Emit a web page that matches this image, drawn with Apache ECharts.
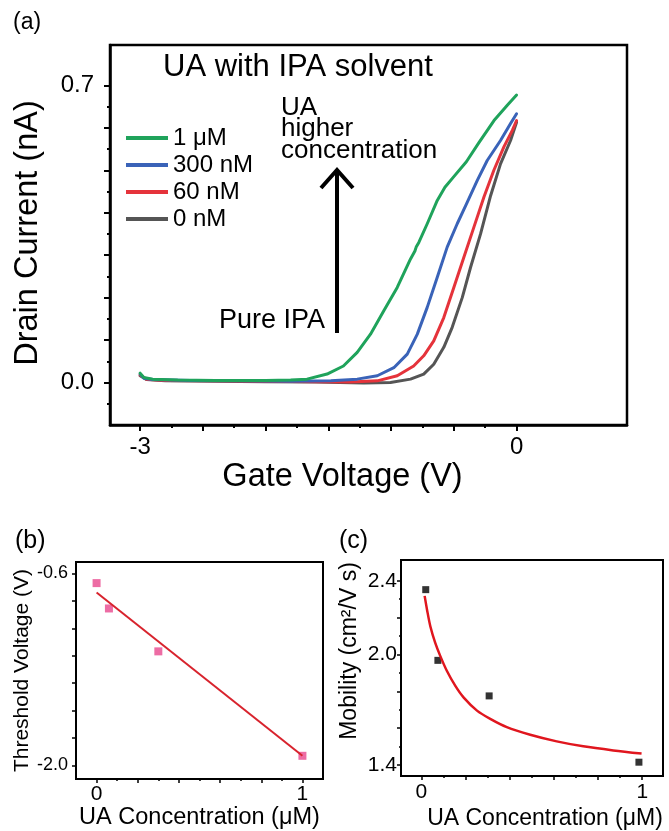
<!DOCTYPE html>
<html><head><meta charset="utf-8">
<script src="https://cdn.jsdelivr.net/npm/echarts@6/dist/echarts.min.js"></script>
<style>html,body{margin:0;padding:0;background:#fff}#c{width:669px;height:831px}</style>
</head><body><div id="c"></div>
<script>
// ---------- Panel (a): transfer curves [gate V, drain nA] ----------
const seriesNames = ['1 μM', '300 nM', '60 nM', '0 nM'];
const curve1uM = [[-3.0,0.022],[-2.97,0.012],[-2.9,0.008],[-2.7,0.006],[-2.4,0.005],[-2.0,0.005],[-1.8,0.006],[-1.67,0.008],[-1.51,0.02],[-1.38,0.039],[-1.27,0.071],[-1.164,0.114],[-1.058,0.169],[-0.951,0.224],[-0.845,0.291],[-0.81,0.31],[-0.8,0.319],[-0.779,0.33],[-0.712,0.374],[-0.632,0.429],[-0.571,0.46],[-0.5,0.485],[-0.4,0.52],[-0.3,0.565],[-0.18,0.617],[-0.074,0.653],[0,0.677]];
const curve300nM = [[-3.0,0.02],[-2.97,0.01],[-2.9,0.007],[-2.6,0.005],[-2.2,0.004],[-1.8,0.003],[-1.48,0.004],[-1.27,0.008],[-1.11,0.016],[-0.978,0.035],[-0.871,0.067],[-0.791,0.114],[-0.712,0.177],[-0.632,0.248],[-0.553,0.319],[-0.473,0.374],[-0.4,0.42],[-0.313,0.476],[-0.234,0.523],[-0.128,0.57],[-0.048,0.61],[0,0.633]];
const curve60nM = [[-3.0,0.018],[-2.95,0.008],[-2.8,0.005],[-2.4,0.004],[-2.0,0.003],[-1.6,0.002],[-1.32,0.001],[-1.11,0.004],[-0.951,0.016],[-0.82,0.039],[-0.74,0.063],[-0.66,0.098],[-0.58,0.153],[-0.5,0.224],[-0.42,0.295],[-0.34,0.366],[-0.26,0.437],[-0.181,0.5],[-0.101,0.555],[-0.034,0.594],[0,0.617]];
const curve0nM = [[-3.0,0.016],[-2.95,0.007],[-2.8,0.004],[-2.4,0.003],[-2.0,0.002],[-1.6,0.001],[-1.218,-0.001],[-1.005,0.0],[-0.845,0.008],[-0.74,0.02],[-0.66,0.043],[-0.58,0.083],[-0.513,0.13],[-0.433,0.2],[-0.367,0.271],[-0.287,0.35],[-0.207,0.44],[-0.128,0.515],[-0.048,0.57],[0,0.613]];
const aXMajor = [-3,-2.5,-2,-1.5,-1,-0.5,0];
const aXMinor = [-2.75,-2.25,-1.75,-1.25,-0.75,-0.25];
const aXLabels = [-3, 0];
const aYMajor = [0,0.1,0.2,0.3,0.4,0.5,0.6,0.7];
const aYMinor = [-0.05,0.05,0.15,0.25,0.35,0.45,0.55,0.65];
const aYLabels = [0, 0.7];

// ---------- Panel (b): threshold voltage ----------
const bConc = [0, 0.06, 0.3, 1.0];
const bVth = [-0.67, -0.855, -1.168, -1.93];
const bFit = [[0, -0.739], [1.0, -1.93]];
const bXMajor = [0,0.2,0.4,0.6,0.8,1.0];
const bXMinor = [0.1,0.3,0.5,0.7,0.9];
const bXLabels = [0, 1];
const bYMajor = [-2.0,-1.8,-1.6,-1.4,-1.2,-1.0,-0.8,-0.6];
const bYMinor = [];
const bYLabels = [-2.0, -0.6];

// ---------- Panel (c): mobility ----------
const cConc = [0.02, 0.075, 0.307, 0.985];
const cMob = [2.352, 1.968, 1.775, 1.415];
const cFit = [[0.015,2.318],[0.026,2.242],[0.041,2.152],[0.063,2.063],[0.086,1.991],[0.116,1.91],[0.154,1.829],[0.191,1.767],[0.252,1.695],[0.312,1.65],[0.387,1.605],[0.493,1.564],[0.613,1.528],[0.733,1.501],[0.869,1.479],[0.997,1.462]];
const cXMajor = [0,0.2,0.4,0.6,0.8,1.0];
const cXMinor = [0.1,0.3,0.5,0.7,0.9];
const cXLabels = [0, 1];
const cYMajor = [1.4,1.6,1.8,2.0,2.2,2.4];
const cYMinor = [1.5,1.7,1.9,2.1,2.3];
const cYLabels = [1.4, 2.0, 2.4];

const FONT = 'Liberation Sans, Arial, Helvetica, sans-serif';
const colors = {'1 μM':'#1fa35b','300 nM':'#3a63b8','60 nM':'#e5333b','0 nM':'#555555'};

// every grid gets a main axis (index 2*g) and a minor-tick overlay axis (index 2*g+1)
function axes(dim, grid, min, max, major, minor, labels, fmt, o) {
  const pos = dim === 'x' ? 'bottom' : 'left';
  return [{
    type: 'value', gridIndex: grid, position: pos, min: min, max: max,
    name: o.name, nameLocation: 'middle', nameGap: o.nameGap,
    nameTextStyle: {fontFamily: FONT, fontSize: o.nameSize, color: '#000', padding: o.namePad || 0},
    axisLine: {show: true, onZero: false, lineStyle: {color: '#000', width: o.lw}},
    axisTick: {show: true, inside: false, length: o.tickLen, customValues: major, lineStyle: {color: '#000', width: o.tw}},
    axisLabel: {show: true, customValues: labels, formatter: fmt, margin: o.margin,
      fontFamily: FONT, fontSize: o.labelSize, color: '#000'},
    splitLine: {show: false}
  }, {
    type: 'value', gridIndex: grid, position: pos, min: min, max: max,
    axisLine: {show: false, onZero: false},
    axisTick: {show: minor.length > 0, inside: false, length: o.minorLen, customValues: minor.length ? minor : [min], lineStyle: {color: '#000', width: o.tw}},
    axisLabel: {show: false}, splitLine: {show: false}
  }];
}
const f1 = v => v.toFixed(1);
const f0 = v => String(Math.round(v));

const xAxes = [].concat(
  axes('x', 0, -3.24, 0.88, aXMajor, aXMinor, aXLabels, f0,
    {name: 'Gate Voltage (V)', nameGap: 36, nameSize: 32.5, namePad: [0, 52, 0, 0], lw: 2.5, tw: 2, tickLen: 6, minorLen: 3, margin: 10, labelSize: 24}),
  axes('x', 1, -0.1, 1.1, bXMajor, bXMinor, bXLabels, f0,
    {name: 'UA Concentration (μM)', nameGap: 23, nameSize: 23.5, lw: 2, tw: 1.5, tickLen: 4, minorLen: 2, margin: 5, labelSize: 21}),
  axes('x', 2, -0.092, 1.094, cXMajor, cXMinor, cXLabels, f0,
    {name: 'UA Concentration (μM)', nameGap: 31, nameSize: 23, namePad: [0, 0, 0, 26], lw: 2, tw: 1.5, tickLen: 4, minorLen: 2, margin: 6, labelSize: 21})
);
const yAxes = [].concat(
  axes('y', 0, -0.1, 0.795, aYMajor, aYMinor, aYLabels, f1,
    {name: 'Drain Current (nA)', nameGap: 65, nameSize: 32.5, namePad: [0, 0, 0, 4], lw: 2.5, tw: 2, tickLen: 6, minorLen: 3, margin: 16, labelSize: 24}),
  axes('y', 1, -2.1, -0.516, bYMajor, bYMinor, bYLabels, f1,
    {name: 'Threshold Voltage (V)', nameGap: 40, nameSize: 21, lw: 2, tw: 1.5, tickLen: 4, minorLen: 2, margin: 8, labelSize: 18}),
  axes('y', 2, 1.34, 2.513, cYMajor, cYMinor, cYLabels, f1,
    {name: 'Mobility (cm²/V s)', nameGap: 40, nameSize: 23, namePad: [0, 0, 0, 34], lw: 2, tw: 1.5, tickLen: 4, minorLen: 2, margin: 4, labelSize: 21})
);

const curves = {'0 nM': curve0nM, '60 nM': curve60nM, '300 nM': curve300nM, '1 μM': curve1uM};
const aSeries = ['0 nM', '60 nM', '300 nM', '1 μM'].map(n => ({
  name: n, type: 'line', xAxisIndex: 0, yAxisIndex: 0, data: curves[n],
  showSymbol: false, smooth: false, color: colors[n],
  lineStyle: {width: 3, color: colors[n], join: 'round', cap: 'round'}, z: 3
}));

const option = {
  animation: false,
  backgroundColor: '#fff',
  grid: [
    {left: 110, top: 45, width: 517, height: 380, show: true, borderColor: '#000', borderWidth: 2.5},
    {left: 76, top: 562, width: 247, height: 219, show: true, borderColor: '#000', borderWidth: 2},
    {left: 401, top: 560, width: 262, height: 218, show: true, borderColor: '#000', borderWidth: 2}
  ],
  xAxis: xAxes,
  yAxis: yAxes,
  legend: {
    data: seriesNames, orient: 'vertical', left: 121, top: 121,
    itemWidth: 42, itemHeight: 4, itemGap: 3, icon: 'rect',
    textStyle: {fontFamily: FONT, fontSize: 24, color: '#000', lineHeight: 20}
  },
  series: aSeries.concat([
    {name: 'fitB', type: 'line', xAxisIndex: 2, yAxisIndex: 2, data: bFit, showSymbol: false,
      lineStyle: {width: 2, color: '#d8232d'}, color: '#d8232d'},
    {name: 'Vth', type: 'scatter', xAxisIndex: 2, yAxisIndex: 2, symbol: 'rect', symbolSize: 8,
      data: bConc.map((c, i) => [c, bVth[i]]), itemStyle: {color: '#e8478d'}},
    {name: 'fitC', type: 'line', xAxisIndex: 4, yAxisIndex: 4, data: cFit, showSymbol: false, smooth: 0.3,
      lineStyle: {width: 2.5, color: '#e0161e'}, color: '#e0161e'},
    {name: 'Mob', type: 'scatter', xAxisIndex: 4, yAxisIndex: 4, symbol: 'rect', symbolSize: 7,
      data: cConc.map((c, i) => [c, cMob[i]]), itemStyle: {color: '#000'}}
  ]),
  graphic: [
    {type: 'text', x: 13, y: 23, style: {text: '(a)', font: '23px ' + FONT, fill: '#000', textVerticalAlign: 'middle', verticalAlign: 'middle'}},
    {type: 'text', x: 163, y: 67, style: {text: 'UA with IPA solvent', font: '31px ' + FONT, fill: '#000', textVerticalAlign: 'middle', verticalAlign: 'middle'}},
    {type: 'text', x: 281, y: 108, style: {text: 'UA', font: '26px ' + FONT, fill: '#000', textVerticalAlign: 'middle', verticalAlign: 'middle'}},
    {type: 'text', x: 281, y: 129, style: {text: 'higher', font: '26px ' + FONT, fill: '#000', textVerticalAlign: 'middle', verticalAlign: 'middle'}},
    {type: 'text', x: 281, y: 151, style: {text: 'concentration', font: '26px ' + FONT, fill: '#000', textVerticalAlign: 'middle', verticalAlign: 'middle'}},
    {type: 'text', x: 219, y: 321, style: {text: 'Pure IPA', font: '27px ' + FONT, fill: '#000', textVerticalAlign: 'middle', verticalAlign: 'middle'}},
    {type: 'polyline', shape: {points: [[337, 333], [337, 171]]}, style: {stroke: '#000', lineWidth: 4, fill: null}},
    {type: 'polyline', shape: {points: [[321, 188], [337, 170], [353, 188]]}, style: {stroke: '#000', lineWidth: 4, fill: null}},
    {type: 'text', x: 15, y: 541, style: {text: '(b)', font: '25px ' + FONT, fill: '#000', textVerticalAlign: 'middle', verticalAlign: 'middle'}},
    {type: 'text', x: 339, y: 541, style: {text: '(c)', font: '25px ' + FONT, fill: '#000', textVerticalAlign: 'middle', verticalAlign: 'middle'}}
  ]
};
const chart = echarts.init(document.getElementById('c'), null, {renderer: 'canvas'});
chart.setOption(option);
</script></body></html>
